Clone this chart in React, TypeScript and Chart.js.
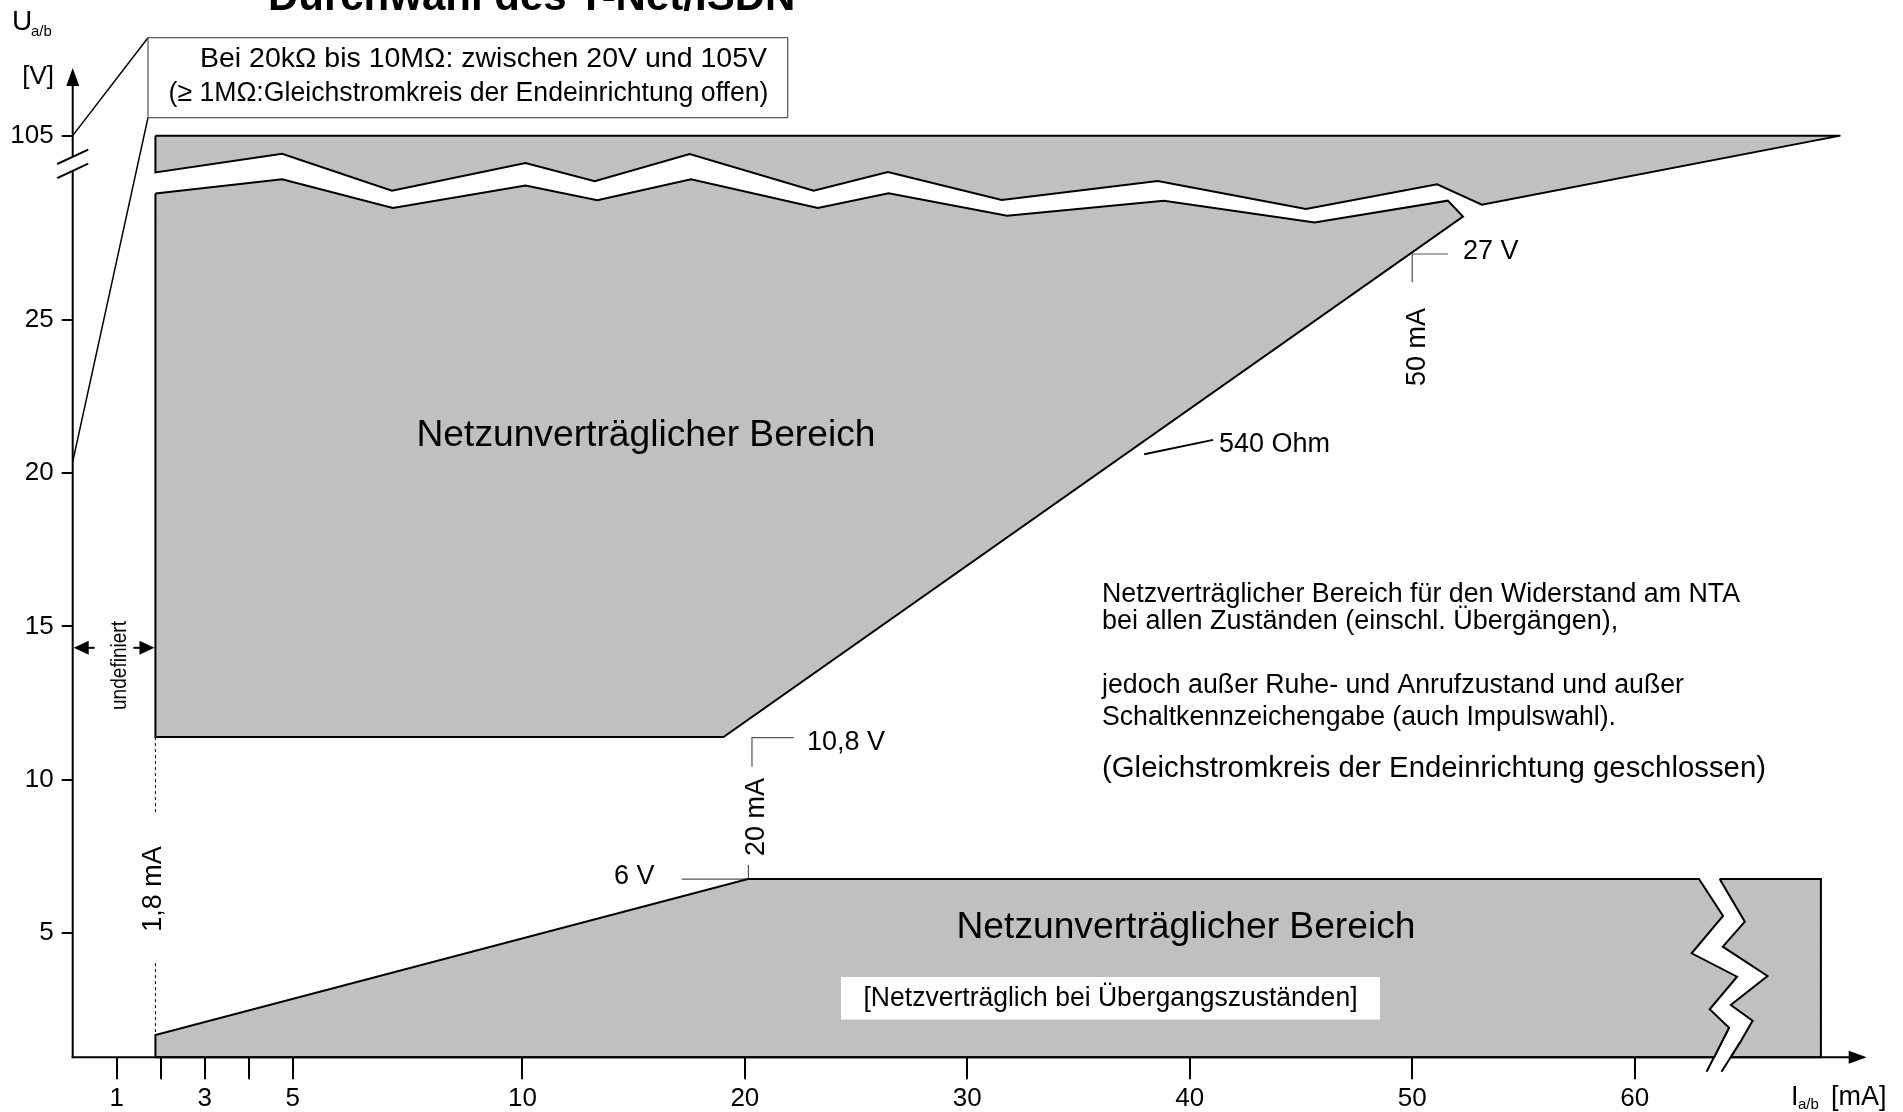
import React, { useEffect, useRef } from 'react';
import { Chart, registerables } from 'chart.js';

Chart.register(...registerables);

const W = 1903;
const H = 1112;
const FONT = "'Liberation Sans', Arial, Helvetica, sans-serif";

// ---- broken axes (piecewise scales) ----
// x: current in mA -> scale units (0..5 mA and 5..10 mA wide, above 10 mA compressed)
const X_KNOTS_MA = [0, 5, 10, 60];
const X_KNOTS_T = [0, 5, 10.22, 35.5];
function xT(ma: number): number {
  let i = 0;
  while (i < X_KNOTS_MA.length - 2 && ma > X_KNOTS_MA[i + 1]) i++;
  return X_KNOTS_T[i] + ((ma - X_KNOTS_MA[i]) * (X_KNOTS_T[i + 1] - X_KNOTS_T[i])) / (X_KNOTS_MA[i + 1] - X_KNOTS_MA[i]);
}
// y: voltage -> scale units (axis broken between 29 V and 105 V)
const Y_BREAK_V = 29;
const Y_TOP_V = 105;
const Y_TOP_U = 31;
function yT(v: number): number {
  return v <= Y_BREAK_V ? v : Y_BREAK_V + ((v - Y_BREAK_V) * (Y_TOP_U - Y_BREAK_V)) / (Y_TOP_V - Y_BREAK_V);
}

// ---- ticks ----
const X_TICK_VALUES = [1, 2, 3, 4, 5, 10, 20, 30, 40, 50, 60];
const X_TICK_LABELS = ['1', '', '3', '', '5', '10', '20', '30', '40', '50', '60'];
const Y_TICK_VALUES = [5, 10, 15, 20, 25, 105];
const Y_TICK_LABELS = ['5', '10', '15', '20', '25', '105'];

// ---- data (I in mA, U in V) ----
// upper region: band below 105 V with its zig-zag lower edge
const UPPER_TOP_MA = [1.88, 69.25];
const UPPER_TOP_V = [105, 105];
const UPPER_ZIG_MA = [1.88, 4.76, 7.16, 10.14, 13.25, 17.52, 23.09, 26.43, 31.55, 38.56, 45.22, 51.12, 53.13];
const UPPER_ZIG_V = [59.4, 82.6, 36.7, 71.2, 48.4, 82.2, 36.7, 59.8, 28.9, 48.8, 28.61, 44.6, 28.75];
// main upper region: zig-zag top edge, 540 Ohm line, 10.8 V floor
const LOWER_ZIG_MA = [1.88, 4.76, 7.18, 10.14, 13.37, 17.58, 23.28, 26.46, 31.79, 38.83, 45.61, 51.6, 52.28];
const LOWER_ZIG_V = [33.2, 51, 28.64, 43.3, 28.89, 51, 28.64, 33.6, 28.39, 28.88, 28.17, 28.88, 28.36];
const LOWER_BASE_MA = [19.04, 1.88];
const LOWER_BASE_V = [11.39, 11.39];
// bottom region (left of break, right of break)
const BOT_LEFT_MA = [1.88, 1.88, 20.14, 62.89, 63.97, 62.56, 64.6, 63.37, 64.24, 63.57];
const BOT_LEFT_V = [0.95, 1.676, 6.76, 6.76, 5.556, 4.34, 3.577, 2.514, 1.914, 0.95];
const BOT_RIGHT_MA = [63.82, 68.37, 68.37, 64.32, 64.73, 65.3, 64.32, 65.97, 63.96, 64.95];
const BOT_RIGHT_V = [6.76, 6.76, 0.95, 0.95, 1.425, 2.142, 2.654, 3.6, 4.555, 5.37];
const SLASH_A_MA = [64.24, 63.23];
const SLASH_A_V = [1.914, 0.479];
const SLASH_B_MA = [64.73, 63.9];
const SLASH_B_V = [1.425, 0.479];
// markers
const MARK_108_MA = [22.2, 20.32, 20.32];
const MARK_108_V = [11.37, 11.37, 10.42];
const MARK_6_MA = [17.16, 20.16, 20.16];
const MARK_6_V = [6.76, 6.76, 7.22];
const MARK_27_MA = [51.6, 50, 50];
const MARK_27_V = [27.14, 27.14, 26.22];
const OHM_LEAD_MA = [37.95, 41.05];
const OHM_LEAD_V = [20.61, 21.08];
const DASH_UP_MA = [1.88, 1.88];
const DASH_UP_V = [11.39, 8.85];
const DASH_DN_MA = [1.88, 1.88];
const DASH_DN_V = [4.02, 1.676];
// axis details
const Y_AXIS_GAP_V = [61.3, 78.8];
const X_AXIS_GAP_MA = [63.57, 64.32];
const UNDEF_ARROW_V = 14.3;
const BOX_LINK_V = [105, 20.36];

// ---- layout ----
const AXIS_LEFT = 72.7;
const AXIS_BOTTOM = 1057.3;
const AXIS_TOP = 68;
const AXIS_RIGHT = 1866.7;
const PX_PER_T = 44;
const PX_PER_U = 30.67;
const U_ZERO_PX = 1086.4;
const T_MAX = (AXIS_RIGHT - AXIS_LEFT) / PX_PER_T;
const U_MIN = (U_ZERO_PX - AXIS_BOTTOM) / PX_PER_U;
const U_MAX = (U_ZERO_PX - AXIS_TOP) / PX_PER_U;

const GRAY = '#c0c0c0';

function pts(ma: number[], v: number[], close = false) {
  const p = ma.map((m, i) => ({ x: xT(m), y: yT(v[i]) }));
  if (close) p.push({ ...p[0] });
  return p;
}

function shape(data: any[]) {
  return {
    data,
    fill: 'shape',
    backgroundColor: GRAY,
    borderColor: '#000',
    borderWidth: 2,
    borderJoinStyle: 'miter',
    pointRadius: 0,
    tension: 0,
    clip: false,
  };
}
function line(data: any[], color: string, width: number, dash: number[] = []) {
  return {
    data,
    fill: false,
    borderColor: color,
    borderWidth: width,
    borderDash: dash,
    borderJoinStyle: 'miter',
    pointRadius: 0,
    tension: 0,
    clip: false,
  };
}

type TOpt = { align?: CanvasTextAlign; baseline?: CanvasTextBaseline; bold?: boolean; rot?: number; width?: number; sx?: number };
function text(ctx: CanvasRenderingContext2D, s: string, x: number, y: number, size: number, o: TOpt = {}) {
  ctx.save();
  ctx.font = `${o.bold ? 'bold ' : ''}${size}px ${FONT}`;
  ctx.textAlign = o.align || 'left';
  ctx.textBaseline = o.baseline || 'middle';
  ctx.fillStyle = '#000';
  ctx.translate(x, y);
  if (o.rot) ctx.rotate(o.rot);
  let sx = o.sx || 1;
  if (o.width) sx = o.width / ctx.measureText(s).width;
  if (sx !== 1) ctx.scale(sx, 1);
  ctx.fillText(s, 0, 0);
  ctx.restore();
}
function seg(ctx: CanvasRenderingContext2D, x1: number, y1: number, x2: number, y2: number) {
  ctx.beginPath();
  ctx.moveTo(x1, y1);
  ctx.lineTo(x2, y2);
  ctx.stroke();
}
function head(ctx: CanvasRenderingContext2D, tx: number, ty: number, dx: number, dy: number, len: number, half: number) {
  const bx = tx - dx * len;
  const by = ty - dy * len;
  ctx.beginPath();
  ctx.moveTo(tx, ty);
  ctx.lineTo(bx - dy * half, by + dx * half);
  ctx.lineTo(bx + dy * half, by - dx * half);
  ctx.closePath();
  ctx.fill();
}

const annotations = {
  id: 'annotations',
  afterDraw(chart: any) {
    const ctx: CanvasRenderingContext2D = chart.ctx;
    const xs = chart.scales.x;
    const ys = chart.scales.y;
    const X = (ma: number) => xs.getPixelForValue(xT(ma));
    const Y = (v: number) => ys.getPixelForValue(yT(v));
    const a = chart.chartArea;
    ctx.save();
    ctx.strokeStyle = '#000';
    ctx.fillStyle = '#000';
    ctx.lineWidth = 2;
    ctx.lineCap = 'butt';

    // y axis with break
    const gTop = Y(Y_AXIS_GAP_V[1]);
    const gBot = Y(Y_AXIS_GAP_V[0]);
    seg(ctx, a.left, a.bottom + 1, a.left, gBot);
    seg(ctx, a.left, gTop, a.left, a.top + 16);
    head(ctx, a.left, a.top, 0, -1, 18, 6.5);
    seg(ctx, a.left - 15.5, gTop + 7.2, a.left + 15.5, gTop - 7.2);
    seg(ctx, a.left - 15.5, gBot + 7.2, a.left + 15.5, gBot - 7.2);

    // x axis with break
    seg(ctx, a.left - 1, a.bottom, X(X_AXIS_GAP_MA[0]), a.bottom);
    seg(ctx, X(X_AXIS_GAP_MA[1]), a.bottom, a.right - 16, a.bottom);
    head(ctx, a.right, a.bottom, 1, 0, 18, 6.5);

    // annotation box + links to the y axis
    const bx1 = 148, by1 = 37.7, bx2 = 787.7, by2 = 117.7;
    ctx.lineWidth = 1.5;
    seg(ctx, a.left, Y(BOX_LINK_V[0]), bx1, by1);
    seg(ctx, a.left, Y(BOX_LINK_V[1]), bx1, by2);
    ctx.strokeStyle = '#555';
    ctx.lineWidth = 1.2;
    ctx.strokeRect(bx1, by1, bx2 - bx1, by2 - by1);
    text(ctx, 'Bei 20k\u03A9 bis 10M\u03A9: zwischen 20V und 105V', 483.5, 60, 27, { align: 'center', width: 567 });
    text(ctx, '(\u2265 1M\u03A9:Gleichstromkreis der Endeinrichtung offen)', 468.5, 94, 27, { align: 'center', width: 600 });

    // "undefiniert" arrows
    ctx.strokeStyle = '#000';
    ctx.lineWidth = 2;
    const ay = Y(UNDEF_ARROW_V);
    seg(ctx, a.left + 12, ay, a.left + 22, ay);
    head(ctx, a.left + 1, ay, -1, 0, 15, 7);
    const x18 = X(1.88);
    seg(ctx, x18 - 22, ay, x18 - 12, ay);
    head(ctx, x18 - 1, ay, 1, 0, 15, 7);
    text(ctx, 'undefiniert', 126, 665.5, 22, { align: 'center', baseline: 'alphabetic', rot: -Math.PI / 2, width: 89 });

    // rotated value labels
    text(ctx, '1,8 mA', 161, 889, 27, { align: 'center', baseline: 'alphabetic', rot: -Math.PI / 2 });
    text(ctx, '20 mA', 764, 817, 27, { align: 'center', baseline: 'alphabetic', rot: -Math.PI / 2 });
    text(ctx, '50 mA', 1425, 347, 27, { align: 'center', baseline: 'alphabetic', rot: -Math.PI / 2 });
    text(ctx, '10,8 V', 807, 743, 27);
    text(ctx, '6 V', 614, 877, 27);
    text(ctx, '27 V', 1463, 252, 27);
    text(ctx, '540 Ohm', 1219, 445, 27);

    // region labels
    text(ctx, 'Netzunvertr\u00E4glicher Bereich', 646, 436, 37, { align: 'center', width: 459 });
    text(ctx, 'Netzunvertr\u00E4glicher Bereich', 1186, 928, 37, { align: 'center', width: 459 });
    ctx.fillStyle = '#fff';
    ctx.fillRect(841, 977, 539, 42.5);
    text(ctx, '[Netzvertr\u00E4glich bei \u00DCbergangszust\u00E4nden]', 1110.5, 998.5, 27, { align: 'center', width: 494 });

    // right-hand explanation
    text(ctx, 'Netzvertr\u00E4glicher Bereich f\u00FCr den Widerstand am NTA', 1102, 594.5, 27, { width: 638 });
    text(ctx, 'bei allen Zust\u00E4nden (einschl. \u00DCberg\u00E4ngen),', 1102, 621.5, 27);
    text(ctx, 'jedoch au\u00DFer Ruhe- und Anrufzustand und au\u00DFer', 1102, 685.5, 27, { width: 582 });
    text(ctx, 'Schaltkennzeichengabe (auch Impulswahl).', 1102, 717.5, 27, { width: 514 });
    text(ctx, '(Gleichstromkreis der Endeinrichtung geschlossen)', 1102, 768.5, 29, { width: 664 });

    // title and axis titles
    text(ctx, 'Durchwahl des T-Net/ISDN', 531.6, 9.5, 42, { align: 'center', baseline: 'alphabetic', bold: true });
    text(ctx, 'U', 12, 30, 28, { baseline: 'alphabetic' });
    text(ctx, 'a/b', 31, 36, 15, { baseline: 'alphabetic' });
    text(ctx, '[V]', 54, 77, 26, { align: 'right' });
    text(ctx, 'I', 1791, 1105, 27, { baseline: 'alphabetic' });
    text(ctx, 'a/b', 1798, 1109, 15, { baseline: 'alphabetic' });
    text(ctx, '[mA]', 1831, 1105, 27, { baseline: 'alphabetic' });
    ctx.restore();
  },
};

export default function App() {
  const ref = useRef<HTMLCanvasElement>(null);
  useEffect(() => {
    const canvas = ref.current!;
    const upperBand = pts(
      [...UPPER_TOP_MA, ...UPPER_ZIG_MA.slice().reverse()],
      [...UPPER_TOP_V, ...UPPER_ZIG_V.slice().reverse()],
      true
    );
    const lowerBig = pts([...LOWER_ZIG_MA, ...LOWER_BASE_MA], [...LOWER_ZIG_V, ...LOWER_BASE_V], true);
    const chart = new Chart(canvas, {
      type: 'line',
      data: {
        datasets: [
          shape(upperBand),
          shape(lowerBig),
          shape(pts(BOT_LEFT_MA, BOT_LEFT_V, true)),
          shape(pts(BOT_RIGHT_MA, BOT_RIGHT_V, true)),
          line(pts(SLASH_A_MA, SLASH_A_V), '#000', 2),
          line(pts(SLASH_B_MA, SLASH_B_V), '#000', 2),
          line(pts(MARK_108_MA, MARK_108_V), '#555', 1.2),
          line(pts(MARK_6_MA, MARK_6_V), '#555', 1.2),
          line(pts(MARK_27_MA, MARK_27_V), '#555', 1.2),
          line(pts(OHM_LEAD_MA, OHM_LEAD_V), '#000', 2),
          line(pts(DASH_UP_MA, DASH_UP_V), '#000', 1, [3, 3]),
          line(pts(DASH_DN_MA, DASH_DN_V), '#000', 1, [3, 3]),
        ] as any,
      },
      options: {
        responsive: false,
        maintainAspectRatio: false,
        animation: false,
        events: [],
        layout: { padding: { left: 0, top: AXIS_TOP, right: W - AXIS_RIGHT, bottom: 0 } },
        plugins: { legend: { display: false }, tooltip: { enabled: false }, title: { display: false } },
        scales: {
          x: {
            type: 'linear',
            min: 0,
            max: T_MAX,
            afterBuildTicks: (s: any) => {
              s.ticks = X_TICK_VALUES.map((v) => ({ value: xT(v) }));
            },
            afterFit: (s: any) => {
              s.height = H - AXIS_BOTTOM;
            },
            grid: { drawOnChartArea: false, drawTicks: true, tickLength: 22, color: '#000', lineWidth: 2 },
            border: { display: false },
            ticks: {
              autoSkip: false,
              maxRotation: 0,
              padding: 4,
              color: '#000',
              font: { family: FONT, size: 26 },
              callback: (_v: any, i: number) => X_TICK_LABELS[i],
            },
          },
          y: {
            type: 'linear',
            min: U_MIN,
            max: U_MAX,
            afterBuildTicks: (s: any) => {
              s.ticks = Y_TICK_VALUES.map((v) => ({ value: yT(v) }));
            },
            afterFit: (s: any) => {
              s.width = AXIS_LEFT;
            },
            grid: { drawOnChartArea: false, drawTicks: true, tickLength: 11, color: '#000', lineWidth: 2 },
            border: { display: false },
            ticks: {
              autoSkip: false,
              padding: 8,
              color: '#000',
              font: { family: FONT, size: 26 },
              callback: (_v: any, i: number) => Y_TICK_LABELS[i],
            },
          },
        },
      } as any,
      plugins: [annotations],
    });
    return () => chart.destroy();
  }, []);
  return (
    <div style={{ position: 'absolute', left: 0, top: 0, width: W, height: H, background: '#fff' }}>
      <canvas ref={ref} width={W} height={H} style={{ display: 'block', width: W, height: H }} />
    </div>
  );
}
